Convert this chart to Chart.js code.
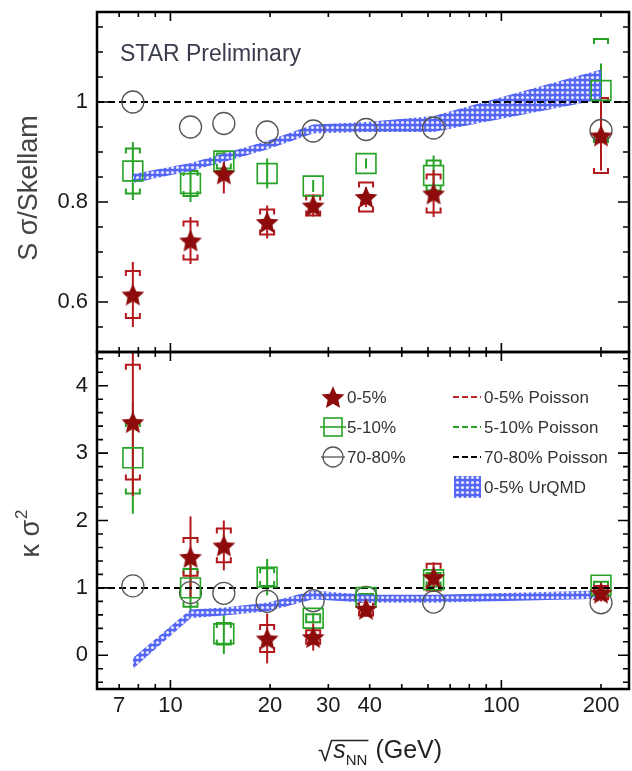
<!DOCTYPE html>
<html><head><meta charset="utf-8">
<script src="https://cdn.jsdelivr.net/npm/chart.js@4.4.1/dist/chart.umd.min.js"></script>
<style>
html,body{margin:0;padding:0;background:#fff;}
#wrap{position:relative;width:632px;height:771px;overflow:hidden;background:#fff;}
canvas{position:absolute;left:0;}
#cTop{top:0;}
#cBot{top:340px;}
</style></head><body>
<div id="wrap">
<canvas id="cBot" width="632" height="431" style="width:632px;height:431px"></canvas>
<canvas id="cTop" width="632" height="356" style="width:632px;height:356px"></canvas>
</div>
<script>
// ---------- data ----------
const energies = [7.7, 11.5, 14.5, 19.6, 27, 39, 62.4, 200];
const xTickValues = [7, 10, 20, 30, 40, 100, 200];
const topTickValues = [0.6, 0.8, 1];
const botTickValues = [0, 1, 2, 3, 4];
const legendLabels = ['0-5%', '5-10%', '70-80%', '0-5% Poisson', '5-10% Poisson', '70-80% Poisson', '0-5% UrQMD'];

// S sigma / Skellam
const sSig_05      = [0.615, 0.723, 0.857, 0.760, 0.793, 0.810, 0.817, 0.933];
const sSig_05_stat = [0.065, 0.047, 0.040, 0.033, 0.022, 0.020, 0.047, 0.070];
const sSig_05_sys  = [0.047, 0.038, 0.000, 0.025, 0.020, 0.029, 0.038, 0.075];
const sSig_510      = [0.862, 0.837, 0.882, 0.857, 0.832, 0.877, 0.853, 1.023];
const sSig_510_stat = [0.058, 0.037, 0.020, 0.030, 0.012, 0.010, 0.040, 0.054];
const sSig_510_sys  = [0.045, 0.025, 0.015, 0.000, 0.000, 0.000, 0.030, 0.103];
const sSig_7080 = [1.000, 0.950, 0.957, 0.940, 0.942, 0.945, 0.948, 0.943];
const urqmdS_lo = [0.838, 0.862, 0.880, 0.905, 0.937, 0.940, 0.940, 1.005];
const urqmdS_hi = [0.856, 0.878, 0.897, 0.922, 0.955, 0.960, 0.972, 1.065];

// kappa sigma^2
const kSig_05      = [3.46, 1.46, 1.63, 0.25, 0.27, 0.69, 1.16, 0.93];
const kSig_05_stat = [1.10, 0.60, 0.37, 0.37, 0.20, 0.12, 0.22, 0.13];
const kSig_05_sys  = [0.85, 0.28, 0.25, 0.20, 0.10, 0.10, 0.20, 0.10];
const kSig_510      = [2.93, 1.00, 0.32, 1.16, 0.55, 0.86, 1.12, 1.04];
const kSig_510_stat = [0.83, 0.43, 0.30, 0.27, 0.08, 0.05, 0.12, 0.06];
const kSig_510_sys  = [0.53, 0.28, 0.16, 0.13, 0.06, 0.05, 0.10, 0.05];
const kSig_7080 = [1.03, 0.93, 0.92, 0.80, 0.81, 0.86, 0.79, 0.78];
const urqmdK_lo = [-0.20, 0.55, 0.59, 0.65, 0.83, 0.78, 0.78, 0.84];
const urqmdK_hi = [-0.04, 0.68, 0.71, 0.78, 0.96, 0.90, 0.90, 0.96];
const poissonLevel = [1, 1];

// ---------- styling ----------
const X_MIN = 6.0, X_MAX = 243;
const RED = '#b3181c', STARFILL = '#8e0b0b', GREEN = '#26a326', GRAY = '#555555';
const FONT = '"Liberation Sans", Arial, Helvetica, sans-serif';
Chart.defaults.font.family = FONT;

function makeStar(R, color) {
  const s = Math.ceil(2 * R + 2);
  const c = document.createElement('canvas'); c.width = s; c.height = s;
  const g = c.getContext('2d');
  g.translate(s / 2, s / 2 + R * 0.1);
  g.beginPath();
  for (let k = 0; k < 10; k++) {
    const r = k % 2 ? R * 0.47 : R;
    const a = -Math.PI / 2 + k * Math.PI / 5;
    g.lineTo(r * Math.cos(a), r * Math.sin(a));
  }
  g.closePath(); g.fillStyle = color; g.fill();
  return c;
}
function makeHatch() {
  const c = document.createElement('canvas'); c.width = 5; c.height = 5;
  const g = c.getContext('2d');
  g.fillStyle = '#5566f4'; g.fillRect(0, 0, 5, 5);
  g.fillStyle = 'rgba(255,255,255,0.85)';
  g.beginPath(); g.arc(2.5, 2.5, 1.6, 0, Math.PI * 2); g.fill();
  return g.createPattern(c, 'repeat');
}
const starImg = makeStar(12, STARFILL);
const starLeg = makeStar(12, STARFILL);
const hatch = makeHatch();

function pts(ys) { return energies.map((x, i) => ({x: x, y: ys[i]})); }
function flat(level) { return [{x: X_MIN, y: level[0]}, {x: X_MAX, y: level[1]}]; }

function seriesSets(main05, st05, sy05, main510, st510, sy510, main7080, lo, hi, withColoredPoisson) {
  const sets = [
    {label: legendLabels[0], data: pts(main05), showLine: false, pointStyle: starImg, pointRadius: 11,
      errStat: st05, errSys: sy05, errColor: RED, order: 0},
    {label: legendLabels[1], data: pts(main510), showLine: false, pointStyle: 'rect', pointRadius: 14,
      borderColor: GREEN, backgroundColor: 'rgba(0,0,0,0)', pointBorderWidth: 1.6,
      errStat: st510, errSys: sy510, errColor: GREEN, order: 1},
    {label: legendLabels[2], data: pts(main7080), showLine: false, pointStyle: 'circle', pointRadius: 11,
      borderColor: GRAY, backgroundColor: 'rgba(0,0,0,0)', pointBorderWidth: 1.3, order: 2},
    {label: legendLabels[5], data: flat(poissonLevel), showLine: true, borderColor: '#000', borderWidth: 2,
      borderDash: [7, 4], pointRadius: 0, order: 3},
    {label: 'UrQMD low', data: pts(lo), showLine: true, borderColor: 'rgba(0,0,0,0)', borderWidth: 1,
      pointRadius: 0, fill: false, order: 8},
    {label: legendLabels[6], data: pts(hi), showLine: true, borderColor: 'rgba(0,0,0,0)', borderWidth: 1,
      pointRadius: 0, fill: '-1', backgroundColor: hatch, order: 7},
  ];
  if (withColoredPoisson) {
    sets.push({label: legendLabels[3], data: flat(poissonLevel), showLine: true, borderColor: '#c0262b', borderWidth: 2,
      borderDash: [7, 4], pointRadius: 0, order: 5});
    sets.push({label: legendLabels[4], data: flat(poissonLevel), showLine: true, borderColor: '#22a022', borderWidth: 2,
      borderDash: [7, 4], pointRadius: 0, order: 4});
  }
  return sets;
}

// ---------- plugins ----------
const errPlugin = {
  id: 'errbars',
  beforeDatasetsDraw(chart) {
    const {ctx, chartArea: a} = chart;
    const xs = chart.scales.x, ys = chart.scales.y;
    ctx.save();
    ctx.beginPath(); ctx.rect(a.left, a.top, a.right - a.left, a.bottom - a.top); ctx.clip();
    const sets = chart.data.datasets.slice().reverse();
    sets.forEach(ds => {
      if (!ds.errStat) return;
      ctx.strokeStyle = ds.errColor; ctx.lineWidth = 2; ctx.setLineDash([]);
      ds.data.forEach((p, i) => {
        const px = xs.getPixelForValue(p.x);
        const st = ds.errStat[i], sy = ds.errSys[i];
        if (st > 0) {
          ctx.beginPath();
          ctx.moveTo(px, ys.getPixelForValue(p.y + st));
          ctx.lineTo(px, ys.getPixelForValue(p.y - st));
          ctx.stroke();
        }
        if (sy > 0) {
          const yt = ys.getPixelForValue(p.y + sy), yb = ys.getPixelForValue(p.y - sy);
          const w = 7, leg = 5;
          ctx.beginPath();
          ctx.moveTo(px - w, yt + leg); ctx.lineTo(px - w, yt); ctx.lineTo(px + w, yt); ctx.lineTo(px + w, yt + leg);
          ctx.moveTo(px - w, yb - leg); ctx.lineTo(px - w, yb); ctx.lineTo(px + w, yb); ctx.lineTo(px + w, yb - leg);
          ctx.stroke();
        }
      });
    });
    ctx.restore();
  }
};

function framePlugin(yMinor, yMajor) {
  return {
    id: 'frame',
    afterDraw(chart) {
      const {ctx, chartArea: a} = chart;
      const xs = chart.scales.x, ys = chart.scales.y;
      ctx.save();
      ctx.strokeStyle = '#000'; ctx.setLineDash([]);
      ctx.lineWidth = 1.6;
      const xMinor = [7, 8, 9, 20, 30, 40, 50, 60, 70, 80, 90, 200];
      const xMajor = [10, 100];
      ctx.beginPath();
      xMinor.forEach(v => { const p = xs.getPixelForValue(v);
        ctx.moveTo(p, a.top); ctx.lineTo(p, a.top + 5); ctx.moveTo(p, a.bottom); ctx.lineTo(p, a.bottom - 5); });
      xMajor.forEach(v => { const p = xs.getPixelForValue(v);
        ctx.moveTo(p, a.top); ctx.lineTo(p, a.top + 9); ctx.moveTo(p, a.bottom); ctx.lineTo(p, a.bottom - 9); });
      yMinor.forEach(v => { const p = ys.getPixelForValue(v);
        ctx.moveTo(a.left, p); ctx.lineTo(a.left + 6, p); ctx.moveTo(a.right, p); ctx.lineTo(a.right - 6, p); });
      yMajor.forEach(v => { const p = ys.getPixelForValue(v);
        ctx.moveTo(a.left, p); ctx.lineTo(a.left + 11, p); ctx.moveTo(a.right, p); ctx.lineTo(a.right - 11, p); });
      ctx.stroke();
      ctx.lineWidth = 2.5;
      ctx.strokeRect(a.left, a.top, a.right - a.left, a.bottom - a.top);
      ctx.restore();
    }
  };
}

function textPlugin(drawFn) { return {id: 'texts', afterDraw(chart) { drawFn(chart); }}; }

function options(yMin, yMax, yTicks, showX, pad) {
  return {
    responsive: false, animation: false, devicePixelRatio: 1,
    layout: {padding: pad, autoPadding: false},
    plugins: {legend: {display: false}, tooltip: {enabled: false}},
    scales: {
      x: {
        type: 'logarithmic', min: X_MIN, max: X_MAX, display: showX,
        grid: {display: false, drawTicks: false}, border: {display: false},
        afterBuildTicks: s => { s.ticks = xTickValues.map(v => ({value: v})); },
        afterFit: s => { if (showX) s.height = 82; s.paddingLeft = 0; s.paddingRight = 0; },
        ticks: {autoSkip: false, maxRotation: 0, padding: 4, color: '#1a1a1a', font: {size: 22},
          callback: v => String(v)}
      },
      y: {
        min: yMin, max: yMax,
        grid: {display: false, drawTicks: false}, border: {display: false},
        afterBuildTicks: s => { s.ticks = yTicks.map(v => ({value: v})); },
        afterFit: s => { s.width = 97; s.paddingTop = 0; s.paddingBottom = 0; },
        ticks: {padding: 9, color: '#1a1a1a', font: {size: 22}, callback: v => String(v)}
      }
    }
  };
}

function range(a, b, step) { const r = []; for (let v = a; v <= b + 1e-9; v += step) r.push(Math.round(v * 1000) / 1000); return r; }

// ---------- top chart ----------
new Chart(document.getElementById('cTop'), {
  type: 'line',
  data: {datasets: seriesSets(sSig_05, sSig_05_stat, sSig_05_sys, sSig_510, sSig_510_stat, sSig_510_sys,
    sSig_7080, urqmdS_lo, urqmdS_hi, false)},
  options: options(0.5, 1.18, topTickValues, false, {left: 0, right: 3, top: 12, bottom: 4}),
  plugins: [errPlugin, framePlugin(range(0.55, 1.15, 0.05), topTickValues), textPlugin(chart => {
    const ctx = chart.ctx;
    ctx.save();
    ctx.fillStyle = '#3a3b4c'; ctx.font = '23px ' + FONT; ctx.textBaseline = 'alphabetic';
    ctx.fillText('STAR Preliminary', 120, 61);
    ctx.translate(30, 188); ctx.rotate(-Math.PI / 2);
    ctx.fillStyle = '#444'; ctx.font = '27px ' + FONT; ctx.textAlign = 'center'; ctx.textBaseline = 'middle';
    ctx.fillText('S \u03c3/Skellam', 0, 0);
    ctx.restore();
  })]
});

// ---------- bottom chart ----------
new Chart(document.getElementById('cBot'), {
  type: 'line',
  data: {datasets: seriesSets(kSig_05, kSig_05_stat, kSig_05_sys, kSig_510, kSig_510_stat, kSig_510_sys,
    kSig_7080, urqmdK_lo, urqmdK_hi, true)},
  options: options(-0.5, 4.5, botTickValues, true, {left: 0, right: 3, top: 12, bottom: 0}),
  plugins: [errPlugin, framePlugin(range(-0.4, 4.4, 0.2), botTickValues), textPlugin(chart => {
    const ctx = chart.ctx;
    ctx.save();
    // y title  kappa sigma^2
    ctx.save();
    ctx.translate(30, 194); ctx.rotate(-Math.PI / 2);
    ctx.fillStyle = '#444'; ctx.textBaseline = 'middle';
    ctx.font = '27px ' + FONT;
    const main = '\u03ba \u03c3';
    const wMain = ctx.measureText(main).width;
    ctx.font = '17px ' + FONT;
    const wSup = ctx.measureText('2').width;
    const x0 = -(wMain + wSup) / 2;
    ctx.font = '27px ' + FONT; ctx.fillText(main, x0, 2);
    ctx.font = '17px ' + FONT; ctx.fillText('2', x0 + wMain + 1, -8);
    ctx.restore();

    // x title  sqrt(s_NN) (GeV)
    ctx.fillStyle = '#222'; ctx.textBaseline = 'alphabetic';
    let x = 318;
    ctx.font = '26px ' + FONT; ctx.fillText('\u221a', x, 421);
    x += ctx.measureText('\u221a').width - 1;
    ctx.font = 'italic 25px ' + FONT; ctx.fillText('s', x + 2, 418);
    const xs0 = x;
    x += ctx.measureText('s').width + 2;
    ctx.font = '15px ' + FONT; ctx.fillText('NN', x, 425);
    x += ctx.measureText('NN').width;
    ctx.strokeStyle = '#222'; ctx.lineWidth = 1.5;
    ctx.beginPath(); ctx.moveTo(xs0, 400.5); ctx.lineTo(x + 1, 400.5); ctx.stroke();
    ctx.font = '25px ' + FONT; ctx.fillText(' (GeV)', x + 1, 418);

    // legend
    ctx.textBaseline = 'middle'; ctx.font = '17px ' + FONT; ctx.fillStyle = '#333';
    ctx.drawImage(starLeg, 333 - starLeg.width / 2, 57 - starLeg.height / 2);
    ctx.fillText(legendLabels[0], 347, 58);
    ctx.strokeStyle = GREEN; ctx.lineWidth = 1.6;
    ctx.strokeRect(324, 78, 18, 18);
    ctx.beginPath(); ctx.moveTo(320, 87); ctx.lineTo(346, 87); ctx.stroke();
    ctx.fillText(legendLabels[1], 347, 88);
    ctx.strokeStyle = GRAY; ctx.lineWidth = 1.3;
    ctx.beginPath(); ctx.arc(333, 117, 10, 0, Math.PI * 2); ctx.stroke();
    ctx.beginPath(); ctx.moveTo(321, 117); ctx.lineTo(345, 117); ctx.stroke();
    ctx.fillText(legendLabels[2], 347, 118);
    const dash = (col, y) => {
      ctx.save(); ctx.strokeStyle = col; ctx.lineWidth = 2; ctx.setLineDash([6, 3]);
      ctx.beginPath(); ctx.moveTo(453, y); ctx.lineTo(481, y); ctx.stroke(); ctx.restore();
    };
    dash('#c0262b', 57); ctx.fillText(legendLabels[3], 484, 58);
    dash('#22a022', 87); ctx.fillText(legendLabels[4], 484, 88);
    dash('#000', 117); ctx.fillText(legendLabels[5], 484, 118);
    ctx.fillStyle = hatch; ctx.fillRect(454, 136, 27, 22);
    ctx.fillStyle = '#333'; ctx.fillText(legendLabels[6], 484, 148);
    ctx.restore();
  })]
});
</script>
</body></html>
